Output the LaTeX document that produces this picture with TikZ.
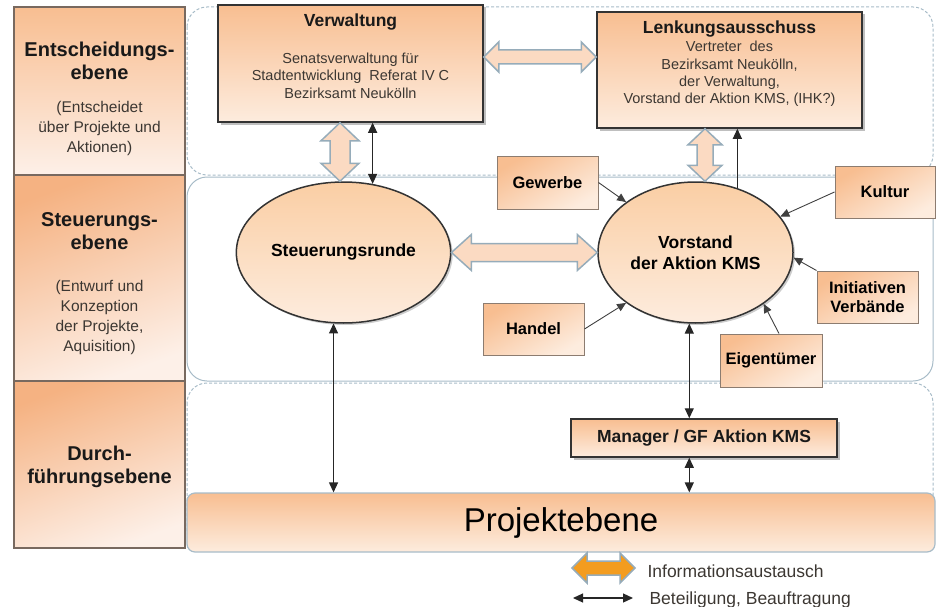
\documentclass[tikz,border=0pt]{standalone}
\usepackage{fontspec}
\setmainfont{Liberation Sans}
\usepackage{tikz}
\usetikzlibrary{arrows.meta,calc,shapes.geometric,shadows,positioning}
\definecolor{peachdark}{RGB}{248, 190, 145}
\definecolor{peachlight}{RGB}{253, 236, 222}
\definecolor{ovaltop}{RGB}{250, 206, 164}
\definecolor{ovalbottom}{RGB}{253, 236, 222}
\definecolor{rowdark}{RGB}{245, 178, 130}
\definecolor{rowlight}{RGB}{253, 240, 232}
\definecolor{rowline}{RGB}{120, 105, 95}
\definecolor{lanegrey}{RGB}{168, 188, 200}
\definecolor{infofill}{RGB}{251, 218, 194}
\definecolor{infoline}{RGB}{150, 172, 186}
\definecolor{infoorange}{RGB}{243, 156, 31}
\definecolor{boxline}{RGB}{140, 124, 112}
\definecolor{textgrey}{RGB}{60, 55, 50}

% hollow double arrows: [style]{from}{to}{head length}{head half width}{shaft half width}
\newcommand{\infoh}[6][info]{%
  \draw[#1] (#2) -- ++(#4,-#5) -- ++(0,#5-#6) -- ($(#3)+(-#4,-#6)$) -- ++(0,#6-#5) -- (#3)
    -- ++(-#4,#5) -- ++(0,#6-#5) -- ($(#2)+(#4,#6)$) -- ++(0,#5-#6) -- cycle;}
\newcommand{\infov}[6][info]{%
  \draw[#1] (#2) -- ++(#5,#4) -- ++(#6-#5,0) -- ($(#3)+(#6,-#4)$) -- ++(#5-#6,0) -- (#3)
    -- ++(-#5,-#4) -- ++(#5-#6,0) -- ($(#2)+(-#6,#4)$) -- ++(#6-#5,0) -- cycle;}

\begin{document}
\begin{tikzpicture}
  [
    x=1pt, y=-1pt,
    >={Triangle[length=10pt, width=9pt]},
    lane/.style={draw=lanegrey, line width=1pt, rounded corners=20pt},
    rowbox/.style={draw=rowline, line width=1.2pt, top color=rowdark, bottom color=rowlight, shading angle=20, minimum width=171pt},
    rowhead/.style={align=center, text=black!90, font=\bfseries\fontsize{20}{23}\selectfont},
    rowtext/.style={align=center, text=textgrey, font=\fontsize{15.5}{20}\selectfont},
    mainbox/.style={draw=black!80, line width=1.5pt, top color=peachdark, bottom color=peachlight, drop shadow={shadow xshift=2.5pt, shadow yshift=-2.5pt, opacity=.5}},
    boxhead/.style={text=black!90, font=\bfseries\fontsize{17.5}{21}\selectfont},
    boxtext/.style={align=center, text=textgrey, font=\fontsize{14.5}{17.4}\selectfont},
    roundtable/.style={ellipse, draw=black!80, line width=1.5pt, top color=ovaltop, bottom color=ovalbottom, align=center, font=\bfseries\fontsize{17.5}{21}\selectfont, drop shadow={shadow xshift=2pt, shadow yshift=-2pt, opacity=.4}},
    actor/.style={draw=boxline, line width=1pt, top color=peachdark, bottom color=peachlight, shading angle=30, align=center, font=\bfseries\fontsize{16.5}{19}\selectfont},
    projbox/.style={draw=lanegrey, line width=1.2pt, rounded corners=8pt, top color=peachdark, bottom color=peachlight, font=\fontsize{33}{36}\selectfont},
    link/.style={line width=1.2pt, draw=black!85, <->},
    feed/.style={line width=.9pt, draw=black!75, -{Triangle[length=9pt, width=8pt]}},
    info/.style={draw=infoline, fill=infofill, line width=1.5pt},
    legendinfo/.style={info, fill=infoorange},
    legend/.style={text=textgrey, font=\fontsize{17.5}{21}\selectfont}
  ]
  \useasboundingbox (0,0) rectangle (936,607);

  % levels
  \draw[lane, dash pattern=on 3pt off 2pt] (187,7) rectangle (933,175);
  \draw[lane] (187,177) rectangle (933,381);
  \draw[lane, dash pattern=on 3pt off 2pt] (187,383) rectangle (933,550);

  \node[rowbox, minimum height=168pt, top color=peachdark, bottom color=rowlight] (rowEnt) at (99.5,91) {};
  \node[rowbox, minimum height=206pt] (rowSteu) at (99.5,278) {};
  \node[rowbox, minimum height=167pt] (rowDurch) at (99.5,464.5) {};
  \node[rowhead] (rowEntHead) at (99.5,61) {Entscheidungs-\\ebene};
  \node[rowtext] (rowEntText) at (99.5,128) {(Entscheidet\\über Projekte und\\Aktionen)};
  \node[rowhead] (rowSteuHead) at (99.5,231) {Steuerungs-\\ebene};
  \node[rowtext] (rowSteuText) at (99.5,317) {(Entwurf und\\Konzeption\\der Projekte,\\Aquisition)};
  \node[rowhead] (rowDurchHead) at (99.5,467) {Durch-\\führungsebene};

  % boards
  \node[mainbox, minimum width=265pt, minimum height=117pt] (verw) at (350.5,63.5) {};
  \node[boxhead] (verwHead) at (350.5,22) {Verwaltung};
  \node[boxtext] (verwText) at (350.5,75.5) {Senatsverwaltung für\\Stadtentwicklung\ \ Referat IV C\\Bezirksamt Neukölln};
  \node[mainbox, minimum width=265pt, minimum height=116pt] (lenk) at (729.5,70) {};
  \node[boxhead] (lenkHead) at (729.5,29) {Lenkungsausschuss};
  \node[boxtext] (lenkText) at (729.5,74) {Vertreter\ \ des\\Bezirksamt Neukölln,\\der Verwaltung,\\Vorstand der Aktion KMS, (IHK?)};

  \node[roundtable, minimum width=197pt, minimum height=141pt] (steu) at (343.5,252.5) {Steuerungsrunde};
  \node[roundtable, minimum width=195pt, minimum height=141pt] (vorst) at (695.5,252.5) {Vorstand\\der Aktion KMS};

  \node[actor, minimum width=101pt, minimum height=53pt] (gewerbe) at (547.5,182.5) {Gewerbe};
  \node[actor, minimum width=100pt, minimum height=52pt] (kultur) at (885,192) {Kultur};
  \node[actor, minimum width=101pt, minimum height=52pt] (initiativ) at (867.5,297) {Initiativen\\Verbände};
  \node[actor, minimum width=101pt, minimum height=52pt] (handel) at (533.5,329) {Handel};
  \node[actor, minimum width=102pt, minimum height=53pt] (eigent) at (771,360.5) {Eigentümer};

  \node[mainbox, minimum width=266pt, minimum height=38pt, boxhead] (manager) at (704,438) {Manager / GF Aktion KMS};
  \node[projbox, minimum width=748pt, minimum height=59pt] (projekt) at (561,522.5) {Projektebene};

  % information exchange
  \coordinate (vlA) at ($(verw.east)+(0,-6.5)$);
  \coordinate (vlB) at (vlA -| lenk.west);
  \infoh{vlA}{vlB}{15}{15}{7}
  \infoh{steu.east}{vorst.west}{20}{18}{9}
  \coordinate (vsA) at ($(verw.south)+(-10.5,0)$);
  \coordinate (vsB) at (vsA |- steu.north);
  \infov{vsA}{vsB}{18}{19}{10}
  \coordinate (lvA) at ($(lenk.south)+(-24.5,0)$);
  \coordinate (lvB) at (lvA |- vorst.north);
  \infov{lvA}{lvB}{16}{17}{8}

  % participation
  \draw[link] (steu.67) -- (steu.67 |- verw.south);
  \draw[link, ->] (vorst.57) -- (vorst.57 |- lenk.south);
  \draw[link] (steu.-98) -- (steu.-98 |- projekt.north);
  \draw[link] (vorst.-95) -- (vorst.-95 |- manager.north);
  \draw[link] (vorst.-95 |- manager.south) -- (vorst.-95 |- projekt.north);

  \draw[feed] (gewerbe.east) -- (vorst.144);
  \draw[feed] (kultur.west) -- (vorst.23);
  \draw[feed] (initiativ.north west) -- (vorst.-3);
  \draw[feed] (handel.east) -- (vorst.216);
  \draw[feed] ($(eigent.north)+(8,0)$) -- (vorst.-37);

  % legend
  \node[legend, anchor=west] (infoText) at (644,571) {Informationsaustausch};
  \node[legend, anchor=west] (linkText) at (646,600) {Beteiligung, Beauftragung};
  \coordinate (infoA) at (572,568);
  \coordinate (infoB) at (635,568);
  \infoh[legendinfo]{infoA}{infoB}{15}{15}{7}
  \coordinate (linkA) at (573,598);
  \coordinate (linkB) at (633,598);
  \draw[link] (linkA) -- (linkB);
\end{tikzpicture}
\end{document}
